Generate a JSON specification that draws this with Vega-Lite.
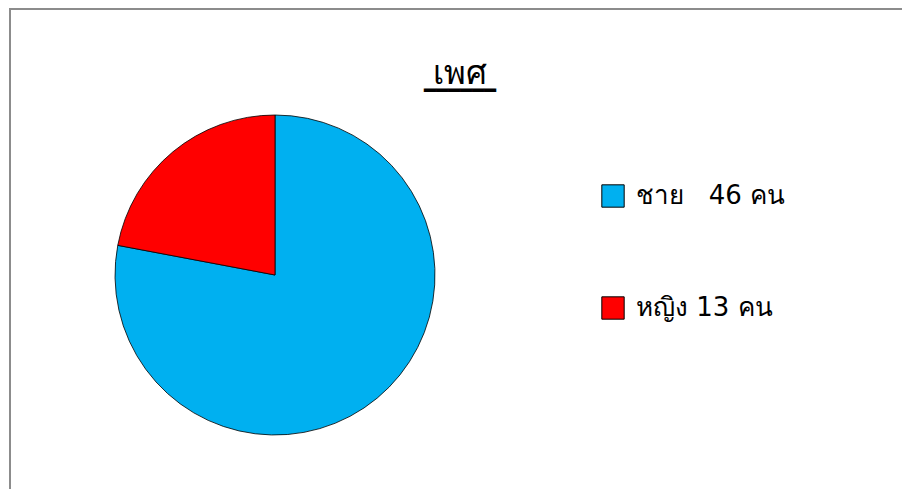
{
  "$schema": "https://vega.github.io/schema/vega-lite/v6.json",
  "autosize": "none",
  "padding": {"left": 10, "top": 9, "right": 0, "bottom": 0},
  "width": 900,
  "height": 490,
  "background": "white",
  "view": {"stroke": "#8c8c8c", "strokeWidth": 2, "fill": "white"},
  "config": {
    "font": "DejaVu Sans"
  },
  "title": {
    "text": "เพศ",
    "fontSize": 33,
    "fontWeight": "normal",
    "color": "black",
    "anchor": "middle",
    "baseline": "alphabetic",
    "offset": -118,
    "subtitle": "━━━━━━",
    "subtitleFontSize": 20,
    "subtitleColor": "black",
    "subtitlePadding": -20
  },
  "data": {
    "values": [
      {"sex": "ชาย", "count": 46, "label": "ชาย\u00a0\u00a0\u00a046 คน"},
      {"sex": "หญิง", "count": 13, "label": "หญิง 13 คน"}
    ]
  },
  "mark": {"type": "arc", "x": 265, "y": 266, "outerRadius": 160, "stroke": "black", "strokeWidth": 0.8},
  "encoding": {
    "theta": {"field": "count", "type": "quantitative", "stack": true},
    "color": {
      "field": "label",
      "type": "nominal",
      "scale": {"domain": ["ชาย\u00a0\u00a0\u00a046 คน", "หญิง 13 คน"], "range": ["#00b0f0", "#ff0000"]},
      "legend": {
        "title": null,
        "orient": "none",
        "legendX": 590,
        "legendY": 174,
        "symbolType": "square",
        "symbolSize": 500,
        "symbolStrokeColor": "black",
        "symbolStrokeWidth": 1,
        "symbolOpacity": 1,
        "labelFontSize": 26,
        "labelColor": "black",
        "labelOffset": 10,
        "rowPadding": 84
      }
    }
  }
}
